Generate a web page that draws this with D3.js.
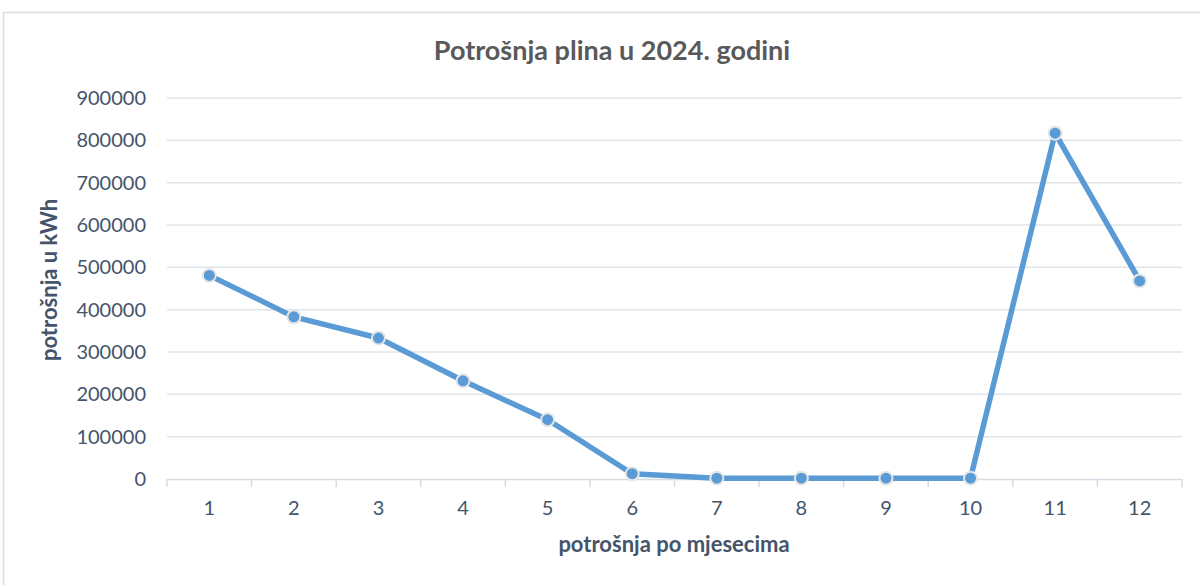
<!DOCTYPE html>
<html><head><meta charset="utf-8">
<script src="https://cdn.jsdelivr.net/npm/d3@7"></script>
<style>html,body{margin:0;padding:0;background:#fff;overflow:hidden}</style>
</head><body><svg id="c" width="1200" height="585"></svg>
<script>
const months = ["1","2","3","4","5","6","7","8","9","10","11","12"];
const consumption = [481000, 383000, 333000, 232000, 140000, 12500, 2000, 2000, 2000, 2000, 817000, 468000];
const yTicks = [0,100000,200000,300000,400000,500000,600000,700000,800000,900000];
const title = "Potrošnja plina u 2024. godini";
const xTitle = "potrošnja po mjesecima";
const yTitle = "potrošnja u kWh";

const font = "Lato, 'Open Sans', sans-serif";
const svg = d3.select("#c");
svg.append("rect").attr("x",3.5).attr("y",12.5).attr("width",1300).attr("height",700)
  .attr("fill","#fff").attr("stroke","#d9dde3").attr("stroke-width",1.5);

const x = d3.scaleBand().domain(months).range([167,1182]).padding(0);
const y = d3.scaleLinear().domain([0,900000]).range([479,98]);

// gridlines
svg.append("g").selectAll("line").data(yTicks.filter(d=>d>0)).join("line")
  .attr("x1",167).attr("x2",1182).attr("y1",d=>y(d)).attr("y2",d=>y(d))
  .attr("stroke","#dfe3ea").attr("stroke-width",1.5);

// x axis
const xAxis = svg.append("g").attr("transform","translate(0,"+y(0)+")")
  .call(d3.axisBottom(x).tickSize(0).tickPadding(22));
xAxis.select(".domain").attr("stroke","#d6dce4").attr("stroke-width",1.5);
xAxis.selectAll("text").attr("font-family",font).attr("font-size",20).attr("fill","#44546a");
// category boundary ticks
const bounds = months.map(m=>x(m)).concat([x.range()[1]]);
svg.append("g").selectAll("line").data(bounds).join("line")
  .attr("x1",d=>d).attr("x2",d=>d).attr("y1",y(0)).attr("y2",y(0)+8)
  .attr("stroke","#d6dce4").attr("stroke-width",1.5);

// y axis labels
const yAxis = svg.append("g").attr("transform","translate(167,0)")
  .call(d3.axisLeft(y).tickValues(yTicks).tickSize(0).tickPadding(21).tickFormat(d3.format("d")));
yAxis.select(".domain").remove();
yAxis.selectAll("text").attr("font-family",font).attr("font-size",20).attr("fill","#44546a");

// line
const line = d3.line().x((d,i)=>x(months[i])+x.bandwidth()/2).y(d=>y(d));
svg.append("path").datum(consumption).attr("d",line).attr("fill","none")
  .attr("stroke","#5b9bd5").attr("stroke-width",5.5).attr("stroke-linejoin","round");
svg.append("g").selectAll("circle").data(consumption).join("circle")
  .attr("cx",(d,i)=>x(months[i])+x.bandwidth()/2).attr("cy",d=>y(d)).attr("r",6.5)
  .attr("fill","#5b9bd5").attr("stroke","#e6e6e6").attr("stroke-width",2);

// titles
svg.append("text").attr("x",612).attr("y",60).attr("text-anchor","middle")
  .attr("font-family",font).attr("font-weight","bold").attr("font-size",27).attr("fill","#595959").text(title);
svg.append("text").attr("x",674).attr("y",552).attr("text-anchor","middle")
  .attr("font-family",font).attr("font-weight","bold").attr("font-size",22).attr("fill","#44546a").text(xTitle);
svg.append("text").attr("transform","translate(57,280) rotate(-90)").attr("text-anchor","middle")
  .attr("font-family",font).attr("font-weight","bold").attr("font-size",22).attr("fill","#44546a").text(yTitle);
</script></body></html>
